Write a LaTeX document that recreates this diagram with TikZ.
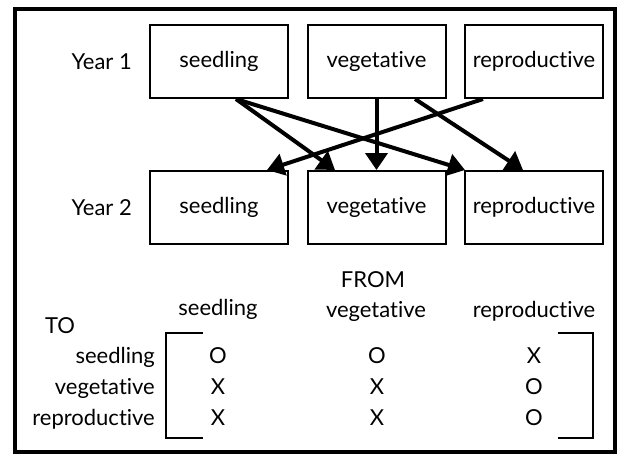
\documentclass[tikz,border=0pt]{standalone}
\usepackage{fontspec}
\setmainfont[Ligatures={NoCommon,NoRare,NoContextual}]{Lato}
\usetikzlibrary{arrows.meta}

\tikzset{
  stagebox/.style={draw,line width=2pt,minimum width=138pt,minimum height=73pt,inner sep=0pt},
  flow/.style={line width=4pt,-{Triangle[length=17pt,width=22pt]}},
  word/.style={inner sep=0pt,anchor=base}
}

\begin{document}
\begin{tikzpicture}[x=1pt,y=-1pt,font=\fontsize{22}{26}\selectfont]
\useasboundingbox (0,0) rectangle (622,456);
\draw[line width=4pt] (14.5,8.7) rectangle (614.5,452);
% the two years
\node[stagebox] (s1) at (219,61.5) {seedling};
\node[stagebox] (v1) at (376.5,61.5) {vegetative};
\node[stagebox] (r1) at (534,61.5) {reproductive};
\node[stagebox] (s2) at (219,207.5) {seedling};
\node[stagebox] (v2) at (376.5,207.5) {vegetative};
\node[stagebox] (r2) at (534,207.5) {reproductive};
\node (y1) at (101.7,61.5) {Year 1};
\node (y2) at (101.7,207.5) {Year 2};
% transitions
\draw[flow] ([xshift=17pt]s1.south) -- ([xshift=-41.5pt]v2.north);
\draw[flow] ([xshift=17pt]s1.south) -- ([xshift=-69pt]r2.north);
\draw[flow] (v1.south) -- (v2.north);
\draw[flow] ([xshift=38.5pt]v1.south) -- ([xshift=-11pt]r2.north);
\draw[flow] ([xshift=-51pt]r1.south) -- ([xshift=48pt]s2.north);
% matrix
\node[word] (from) at (373,287) {FROM};
\node[word] (hs) at (218,315) {seedling};
\node[word] (hv) at (376,317) {vegetative};
\node[word] (hr) at (534,317) {reproductive};
\node[word] (to) at (60,333) {TO};
\node[word,anchor=base east] (ts) at (155,363) {seedling};
\node[word,anchor=base east] (tv) at (155,394.5) {vegetative};
\node[word,anchor=base east] (tr) at (155,425) {reproductive};
\foreach \nm/\x/\y/\mk in {ss/218/363/O,sv/218/394.5/X,sr/218/425/X,
                           vs/377/363/O,vv/377/394.5/X,vr/377/425/X,
                           rs/534/363/X,rv/534/394.5/O,rr/534/425/O}
  \node[word] (m\nm) at (\x,\y) {\mk};
\draw[line width=2pt] (203,333) -- (166,333) -- (166,438) -- (203,438);
\draw[line width=2pt] (558,333) -- (593,333) -- (593,438) -- (558,438);
\end{tikzpicture}
\end{document}
